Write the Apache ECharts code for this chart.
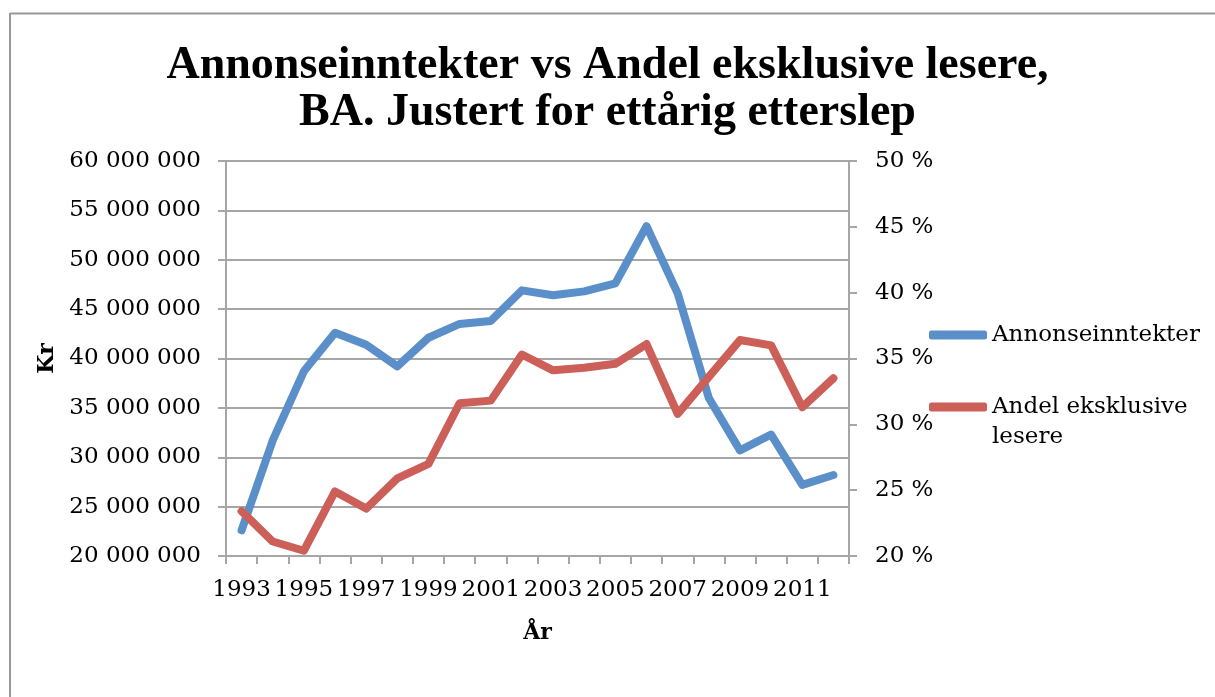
<!DOCTYPE html>
<html>
<head>
<meta charset="utf-8">
<script src="https://cdn.jsdelivr.net/npm/echarts@6/dist/echarts.min.js"></script>
<style>
  html, body { margin: 0; padding: 0; background: #fff; }
  #chart { width: 1215px; height: 697px; }
</style>
</head>
<body>
<div id="chart"></div>
<script>
var years = ['1993', '1994', '1995', '1996', '1997', '1998', '1999', '2000', '2001', '2002',
             '2003', '2004', '2005', '2006', '2007', '2008', '2009', '2010', '2011', '2012'];

// Kr
var annonseinntekter = [22600000, 31700000, 38700000, 42600000, 41400000, 39200000, 42100000, 43500000, 43800000, 46900000,
                        46400000, 46800000, 47600000, 53400000, 46600000, 36000000, 30700000, 32300000, 27200000, 28200000];

// percent
var andelEksklusive = [23.4, 21.1, 20.4, 24.9, 23.6, 25.9, 27.0, 31.6, 31.8, 35.3,
                       34.1, 34.3, 34.6, 36.1, 30.8, 33.6, 36.4, 36.0, 31.3, 33.5];

var leftTicks = { min: 20000000, max: 60000000, interval: 5000000 };
var rightTicks = { min: 20, max: 50, interval: 5 };

var gray = '#a6a6a6';
var serif = 'DejaVu Serif';

function spaced(v) {
    return String(v).replace(/\B(?=(\d{3})+(?!\d))/g, ' ');
}

var chartDom = document.getElementById('chart');
var myChart = echarts.init(chartDom);
var option;

option = {
    backgroundColor: '#fff',
    animation: false,
    title: {
        text: 'Annonseinntekter vs Andel eksklusive lesere,\nBA. Justert for ettårig etterslep',
        left: 'center',
        top: 38,
        textStyle: {
            fontFamily: 'Liberation Serif',
            fontWeight: 'bold',
            fontSize: 46,
            lineHeight: 47,
            color: '#000'
        }
    },
    graphic: [
        { type: 'line', shape: { x1: 10, y1: 13.5, x2: 1215, y2: 13.5 }, style: { stroke: '#999', lineWidth: 2 } },
        { type: 'line', shape: { x1: 10, y1: 13, x2: 10, y2: 697 }, style: { stroke: '#999', lineWidth: 2 } }
    ],
    legend: [
        {
            data: ['Annonseinntekter'],
            orient: 'vertical',
            left: 929,
            top: 320,
            padding: 0,
            itemWidth: 58,
            itemHeight: 9,
            icon: 'roundRect',
            textStyle: { fontFamily: serif, fontSize: 23, lineHeight: 30, color: '#000' }
        },
        {
            data: ['Andel eksklusive lesere'],
            orient: 'vertical',
            left: 929,
            top: 362,
            padding: 0,
            itemWidth: 58,
            itemHeight: 9,
            icon: 'roundRect',
            // blank first line keeps the first text line level with the icon
            formatter: function () { return ' \nAndel eksklusive\nlesere'; },
            textStyle: { fontFamily: serif, fontSize: 23, lineHeight: 30, color: '#000' }
        }
    ],
    grid: {
        left: 226,
        right: 366,
        top: 161,
        bottom: 141
    },
    xAxis: {
        type: 'category',
        data: years,
        boundaryGap: true,
        name: 'År',
        nameLocation: 'middle',
        nameGap: 66,
        nameTextStyle: { fontFamily: serif, fontWeight: 'bold', fontSize: 22, color: '#000' },
        axisLine: { lineStyle: { color: gray, width: 2 } },
        axisTick: { show: true, interval: 0, length: 8, lineStyle: { color: gray, width: 2 } },
        axisLabel: { interval: 1, margin: 23, fontFamily: serif, fontSize: 23, color: '#000' },
        splitLine: { show: false }
    },
    yAxis: [
        {
            type: 'value',
            position: 'left',
            min: leftTicks.min,
            max: leftTicks.max,
            interval: leftTicks.interval,
            name: 'Kr',
            nameLocation: 'middle',
            nameGap: 167,
            nameRotate: 90,
            nameTextStyle: { fontFamily: serif, fontWeight: 'bold', fontSize: 22, color: '#000' },
            axisLine: { show: true, lineStyle: { color: gray, width: 2 } },
            axisTick: { show: true, length: 8, lineStyle: { color: gray, width: 2 } },
            axisLabel: { margin: 25, fontFamily: serif, fontSize: 23, color: '#000', formatter: spaced },
            splitLine: { show: true, lineStyle: { color: gray, width: 2 } }
        },
        {
            type: 'value',
            position: 'right',
            min: rightTicks.min,
            max: rightTicks.max,
            interval: rightTicks.interval,
            axisLine: { show: true, lineStyle: { color: gray, width: 2 } },
            axisTick: { show: true, length: 8, lineStyle: { color: gray, width: 2 } },
            axisLabel: { margin: 26, fontFamily: serif, fontSize: 23, color: '#000', formatter: '{value} %' },
            splitLine: { show: false }
        }
    ],
    series: [
        {
            name: 'Annonseinntekter',
            type: 'line',
            yAxisIndex: 0,
            data: annonseinntekter,
            symbol: 'none',
            color: '#5a8fc9',
            lineStyle: { width: 8, cap: 'round', join: 'round' }
        },
        {
            name: 'Andel eksklusive lesere',
            type: 'line',
            yAxisIndex: 1,
            data: andelEksklusive,
            symbol: 'none',
            color: '#cc5f58',
            lineStyle: { width: 8, cap: 'round', join: 'round' }
        }
    ]
};

option && myChart.setOption(option);
</script>
</body>
</html>
